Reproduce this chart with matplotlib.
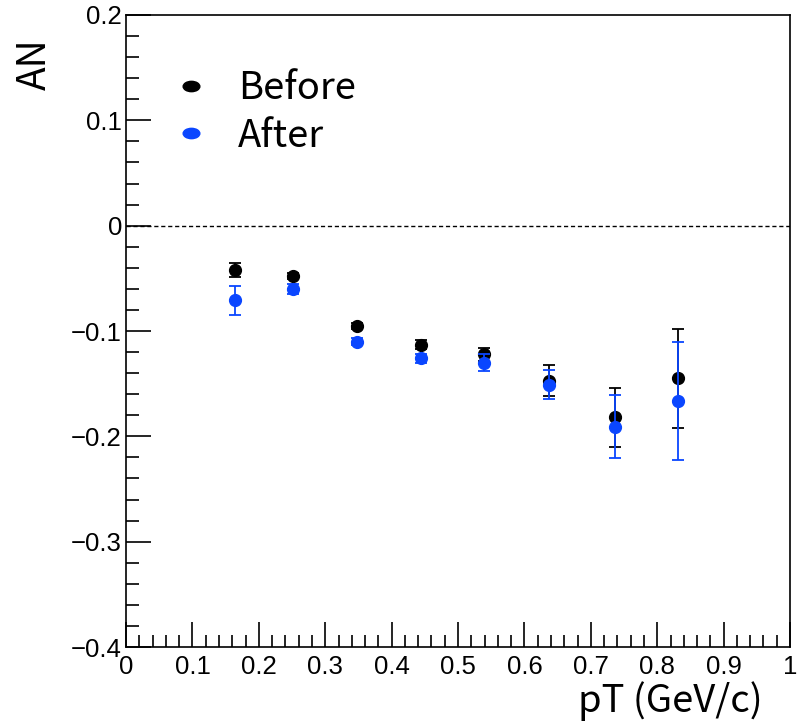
import numpy as np
import matplotlib
matplotlib.use("Agg")
import matplotlib.pyplot as plt
from matplotlib.ticker import MultipleLocator
from matplotlib.lines import Line2D
from matplotlib.path import Path
from matplotlib.transforms import Affine2D

# pT bin centres (GeV/c)
pt = [0.164, 0.251, 0.348, 0.444, 0.539, 0.637, 0.736, 0.831]

# AN before / after correction, with errors
an_before = [-0.042, -0.048, -0.095, -0.113, -0.122, -0.147, -0.182, -0.145]
err_before = [0.007, 0.003, 0.003, 0.004, 0.006, 0.015, 0.028, 0.047]
an_after = [-0.071, -0.060, -0.110, -0.126, -0.130, -0.151, -0.191, -0.166]
err_after = [0.014, 0.005, 0.003, 0.004, 0.008, 0.014, 0.030, 0.056]

x_ticks = ["0", "0.1", "0.2", "0.3", "0.4", "0.5", "0.6", "0.7", "0.8", "0.9", "1"]
y_ticks = ["\u22120.4", "\u22120.3", "\u22120.2", "\u22120.1", "0", "0.1", "0.2"]

blue = "#0a46ff"
label_font = "Noto Sans CJK KR"
tick_font = "Liberation Sans"

fig = plt.figure(figsize=(7.98, 7.21), dpi=100)
ax = fig.add_axes([0.158, 0.1026, 0.832, 0.8766])

ax.axhline(0, color="black", ls=(0, (3, 2)), lw=1.0)

ax.errorbar(pt, an_before, yerr=err_before, fmt="o", color="black", ms=8.5,
            capsize=4, elinewidth=1.3, capthick=1.3, zorder=3)
ax.errorbar(pt, an_after, yerr=err_after, fmt="o", color=blue, ms=8.5,
            capsize=4, elinewidth=1.3, capthick=1.3, zorder=4)

ax.set_xlim(0, 1)
ax.set_ylim(-0.4, 0.2)

ax.xaxis.set_minor_locator(MultipleLocator(0.02))
ax.yaxis.set_minor_locator(MultipleLocator(0.02))
ax.set_xticks(np.linspace(0, 1, len(x_ticks)))
ax.set_xticklabels(x_ticks)
ax.set_yticks(np.linspace(-0.4, 0.2, len(y_ticks)))
ax.set_yticklabels(y_ticks)
ax.tick_params(which="both", direction="in", top=False, right=False, width=1.2)
ax.tick_params(which="major", length=18, labelsize=18.5)
ax.tick_params(axis="x", pad=6)
ax.tick_params(axis="y", pad=3)
ax.tick_params(which="minor", length=9)
for lab in ax.get_xticklabels() + ax.get_yticklabels():
    lab.set_fontfamily(tick_font)

for sp in ax.spines.values():
    sp.set_linewidth(1.2)

ax.set_ylabel("AN", fontsize=28, family=label_font)
ax.yaxis.set_label_coords(-0.137, 0.922)
ax.yaxis.label.set_verticalalignment("center")
ax.yaxis.label.set_horizontalalignment("center")

ax.set_xlabel("pT (GeV/c)", fontsize=27.5, family=label_font)
ax.xaxis.set_label_coords(0.959, -0.054)
ax.xaxis.label.set_horizontalalignment("right")

# squashed ROOT-style legend marker
ellipse = Path.unit_circle().transformed(Affine2D().scale(1.0, 0.62))
handles = [
    Line2D([], [], ls="none", marker=ellipse, ms=12, color="black"),
    Line2D([], [], ls="none", marker=ellipse, ms=12, color=blue),
]
ax.legend(handles, ["Before", "After"], loc="upper left",
          bbox_to_anchor=(0.08, 0.914), frameon=False,
          prop={"family": label_font, "size": 27.5}, handletextpad=0.9,
          labelspacing=0.22, handlelength=0.63, borderpad=0, borderaxespad=0)

fig.savefig("out.png", dpi=100)
